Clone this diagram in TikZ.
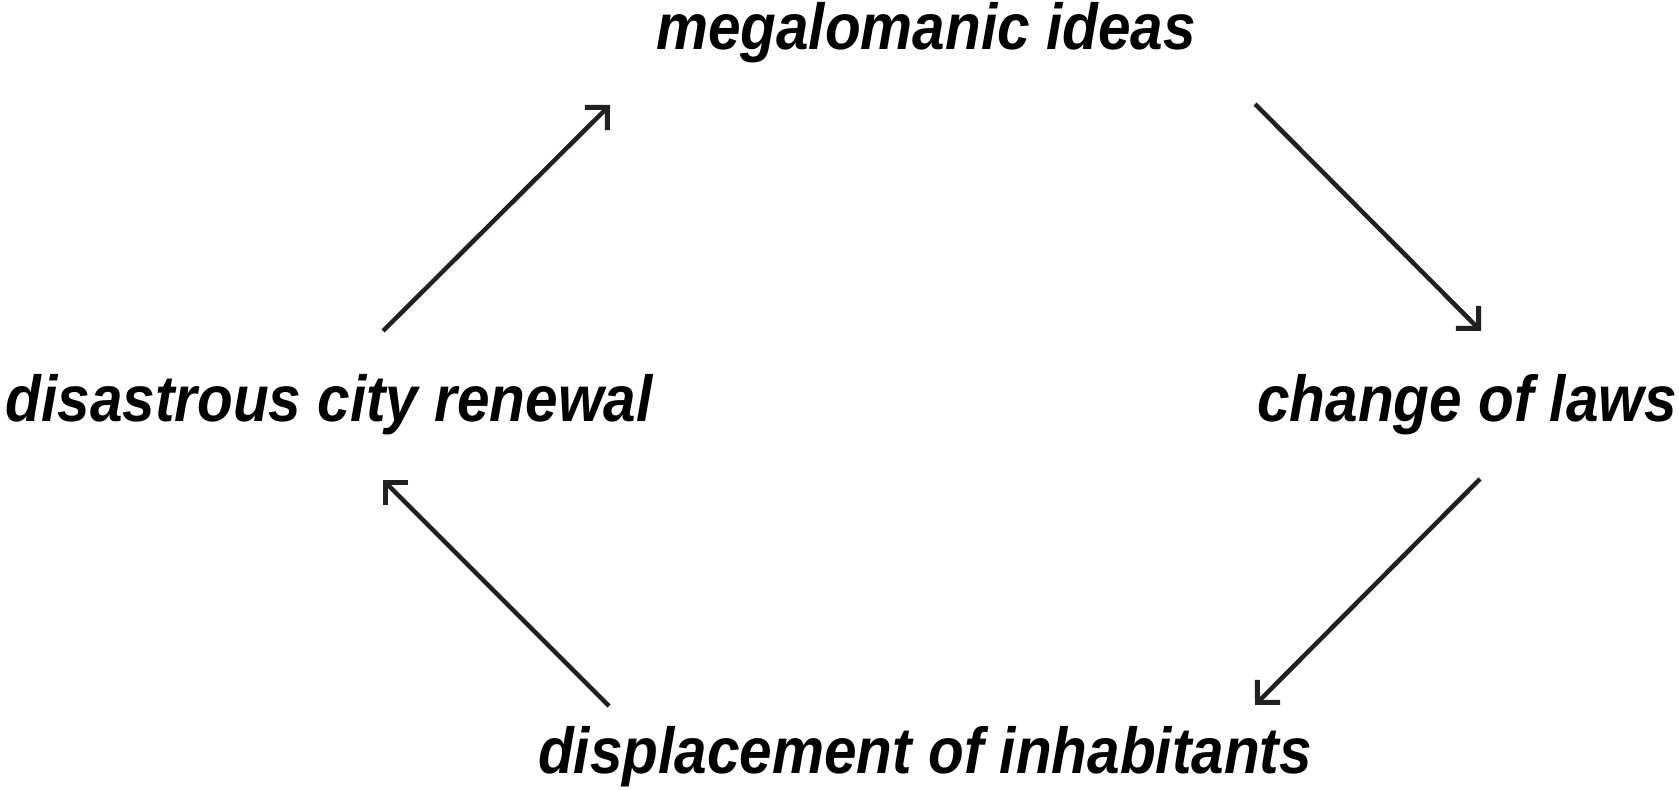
\documentclass[tikz,border=0pt]{standalone}
\usepackage{fontspec}
\setmainfont{Liberation Sans}[FakeStretch=0.9]
\usetikzlibrary{arrows.meta}
\definecolor{arrowgray}{HTML}{231F20}
\tikzset{
    phase/.style={inner sep=0pt, anchor=base, font=\fontsize{65}{78}\selectfont\bfseries\itshape},
    flow/.style={draw=arrowgray, line width=4.5pt, -{Straight Barb[sharp,length=16pt,width=32pt,line width=5pt]}}
}
\begin{document}
\begin{tikzpicture}[x=1pt,y=-1pt]
    \useasboundingbox (0,0) rectangle (1679,791);
    \node[phase] (M) at (926,50) {megalomanic ideas};
    \node[phase] (C) at (1467,421) {change of laws};
    \node[phase] (D) at (925,773) {displacement of inhabitants};
    \node[phase] (R) at (329,421) {disastrous city renewal};

    \draw [flow] ([xshift=54pt,yshift=90pt]R.base) -- ([xshift=-316pt,yshift=-55pt]M.base);
    \draw [flow] ([xshift=329pt,yshift=-54pt]M.base) -- ([xshift=14pt,yshift=90pt]C.base);
    \draw [flow] ([xshift=13pt,yshift=-58pt]C.base) -- ([xshift=330pt,yshift=68pt]D.base);
    \draw [flow] ([xshift=-316pt,yshift=67pt]D.base) -- ([xshift=54pt,yshift=-59pt]R.base);
\end{tikzpicture}
\end{document}
